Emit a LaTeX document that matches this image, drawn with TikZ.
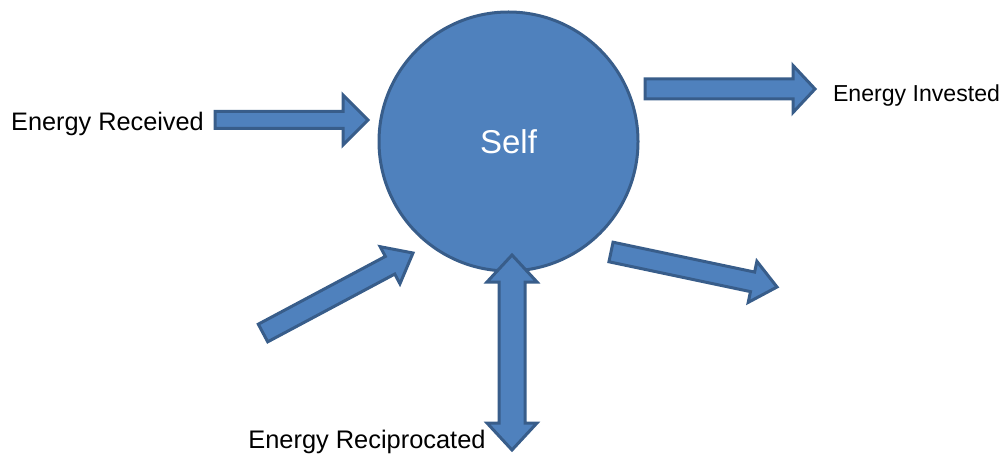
\documentclass[tikz,border=0pt]{standalone}
\usepackage{fontspec}
\setmainfont{Liberation Sans}
\usetikzlibrary{calc}
\definecolor{officeblue}{HTML}{4F81BD}
\definecolor{officeedge}{HTML}{385D8A}
\tikzset{
  blockarrow/.style={fill=officeblue, draw=officeedge, line width=3pt, line join=miter},
  label/.style={anchor=base, inner sep=0pt, text=black},
}
% single block arrow: #1 tail, #2 tip, #3 shaft half width, #4 head half width, #5 head length
\newcommand{\blkarrow}[5]{%
  \coordinate (hb) at ($(#2)!#5!(#1)$);
  \draw[blockarrow] ($(#1)!#3!90:(#2)$) -- ($(hb)!#3!90:(#2)$) -- ($(hb)!#4!90:(#2)$) -- (#2)
     -- ($(hb)!#4!-90:(#2)$) -- ($(hb)!#3!-90:(#2)$) -- ($(#1)!#3!-90:(#2)$) -- cycle;
}
% double block arrow between #1 and #2
\newcommand{\dblarrow}[5]{%
  \coordinate (ha) at ($(#1)!#5!(#2)$);
  \coordinate (hz) at ($(#2)!#5!(#1)$);
  \draw[blockarrow] (#1) -- ($(ha)!#4!90:(#1)$) -- ($(ha)!#3!90:(#1)$) -- ($(hz)!#3!-90:(#2)$)
     -- ($(hz)!#4!-90:(#2)$) -- (#2) -- ($(hz)!#4!90:(#2)$) -- ($(hz)!#3!90:(#2)$)
     -- ($(ha)!#3!-90:(#1)$) -- ($(ha)!#4!-90:(#1)$) -- cycle;
}
\begin{document}
\begin{tikzpicture}[x=1pt, y=-1pt]
  \useasboundingbox (0,0) rectangle (1003,454);
  % central circle
  \node (self) [circle, fill=officeblue, draw=officeedge, line width=3pt,
        minimum size=259pt, inner sep=0pt, text=white,
        font=\fontsize{33}{36}\selectfont] at (508.5,141.5) {Self};
  % arrow end points
  \coordinate (rt) at (215,120);   \coordinate (rh) at (368,120);
  \coordinate (it) at (645,89);    \coordinate (ih) at (815,89);
  \coordinate (lt) at (263,333);   \coordinate (lh) at (413,253);
  \coordinate (ot) at (611,252);   \coordinate (oh) at (777,287);
  \coordinate (ct) at (512,255);   \coordinate (cb) at (512,450);
  \blkarrow{rt}{rh}{8.5pt}{25pt}{25pt}
  \blkarrow{it}{ih}{10pt}{23.5pt}{22pt}
  \blkarrow{lt}{lh}{10pt}{21pt}{26pt}
  \blkarrow{ot}{oh}{10pt}{21pt}{25pt}
  \dblarrow{ct}{cb}{13pt}{25pt}{27pt}
  % labels
  \node (recv) [label, font=\fontsize{25.3}{28}\selectfont] at (107.5,131) {Energy Received};
  \node (inv) [label, font=\fontsize{23.1}{26}\selectfont] at (916.5,102) {Energy Invested};
  \node (recip) [label, font=\fontsize{25.4}{28}\selectfont] at (367,448) {Energy Reciprocated};
\end{tikzpicture}
\end{document}
